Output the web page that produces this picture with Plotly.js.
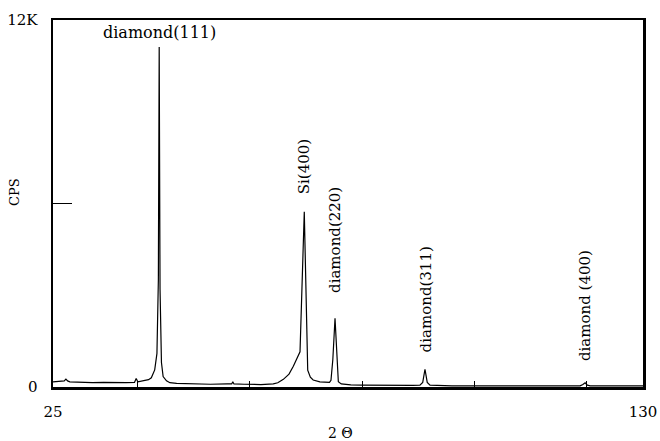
<!DOCTYPE html>
<html>
<head>
<meta charset="utf-8">
<script src="https://cdn.plot.ly/plotly-3.0.1.min.js"></script>
<style>html,body{margin:0;padding:0;background:#fff;}#chart{width:660px;height:441px;}</style>
</head>
<body>
<div id="chart"></div>
<script>
// 2-theta (degrees)
var twoTheta = [25, 26, 27, 27.3, 27.6, 28, 30, 32, 34, 36, 38, 39.5, 39.8, 40.1, 41, 42, 42.5, 43.1, 43.5, 43.75, 43.9, 44.05, 44.3, 44.6, 45.2, 45.8, 47, 50, 53, 56, 56.8, 57.0, 57.2, 59, 62, 64.2, 65, 66.0, 67, 67.77, 68.5, 68.96, 69.72, 70.33, 70.8, 71.3, 72.5, 73.7, 74.2, 74.47, 74.8, 75.19, 75.5, 75.78, 76.3, 77, 78, 80, 83, 86, 89, 90.3, 90.8, 91.2, 91.6, 92.1, 93, 96, 100, 105, 110, 115, 118.8, 119.3, 119.7, 120.1, 120.6, 124, 127, 130];
// counts per second (thousands)
var cps = [0.17, 0.18, 0.2, 0.26, 0.2, 0.17, 0.15, 0.14, 0.15, 0.14, 0.14, 0.15, 0.28, 0.17, 0.2, 0.24, 0.3, 0.56, 1.1, 3.5, 11.12, 3.2, 0.8, 0.34, 0.2, 0.14, 0.12, 0.1, 0.09, 0.1, 0.1, 0.17, 0.1, 0.09, 0.08, 0.1, 0.14, 0.25, 0.42, 0.68, 0.95, 1.15, 5.73, 0.55, 0.32, 0.23, 0.17, 0.14, 0.15, 0.22, 0.9, 2.25, 0.9, 0.17, 0.1, 0.08, 0.07, 0.06, 0.05, 0.05, 0.05, 0.06, 0.15, 0.58, 0.15, 0.06, 0.05, 0.04, 0.04, 0.04, 0.04, 0.04, 0.04, 0.08, 0.14, 0.06, 0.04, 0.04, 0.04, 0.04];

var xTickVals = [25, 40, 60, 80, 100, 120, 130];
var xTickText = ['25', '', '', '', '', '', '130'];
var yTickVals = [0, 6, 12];
var yTickText = ['0', '', '12K'];

var peakLabels = ['diamond(111)', 'Si(400)', 'diamond(220)', 'diamond(311)', 'diamond (400)'];
var peakX = [43.9, 69.7, 75.2, 91.3, 119.7];
var peakLabelY = [11.6, 7.19, 4.81, 2.85, 2.65];
var peakAngle = [0, -90, -90, -90, -90];
var peakFontSize = [16, 15, 15, 15, 15];

var xTitle = '2 Θ';
var yTitle = 'CPS';

var font = 'DejaVu Serif, Liberation Serif, serif';

var annotations = peakLabels.map(function (t, i) {
  return {
    x: peakX[i], y: peakLabelY[i], xref: 'x', yref: 'y', text: t,
    showarrow: false, textangle: peakAngle[i],
    font: {family: font, size: peakFontSize[i], color: '#000'},
    xanchor: 'center', yanchor: 'middle'
  };
});
annotations.push({
  x: (340 - 53) / 590, y: -0.125, xref: 'paper', yref: 'paper', text: xTitle,
  showarrow: false, font: {family: font, size: 14, color: '#000'},
  xanchor: 'center', yanchor: 'middle'
});
annotations.push({
  x: -0.066, y: (387 - 192) / 367, xref: 'paper', yref: 'paper', text: yTitle,
  showarrow: false, textangle: -90, font: {family: font, size: 13, color: '#000'},
  xanchor: 'center', yanchor: 'middle'
});

var trace = {
  x: twoTheta, y: cps, type: 'scatter', mode: 'lines',
  line: {color: '#000', width: 1.2}, hoverinfo: 'none'
};

var layout = {
  width: 660, height: 441,
  margin: {l: 53, r: 17, t: 20, b: 54},
  paper_bgcolor: '#fff', plot_bgcolor: '#fff',
  showlegend: false,
  xaxis: {
    range: [25, 130], showgrid: false, zeroline: false,
    showline: true, mirror: true, linecolor: '#000', linewidth: 2.5,
    ticks: 'inside', ticklen: 6, tickwidth: 1, tickcolor: '#000',
    tickvals: xTickVals, ticktext: xTickText, ticklabelstandoff: 9,
    tickfont: {family: font, size: 15, color: '#000'}
  },
  yaxis: {
    range: [0, 12], showgrid: false, zeroline: false,
    showline: true, mirror: true, linecolor: '#000', linewidth: 2.5,
    ticks: 'inside', ticklen: 19, tickwidth: 1, tickcolor: '#000',
    tickvals: yTickVals, ticktext: yTickText, ticklabelstandoff: 10,
    tickfont: {family: font, size: 15, color: '#000'}
  },
  annotations: annotations
};

Plotly.newPlot('chart', [trace], layout, {staticPlot: true, displayModeBar: false});
</script>
</body>
</html>
